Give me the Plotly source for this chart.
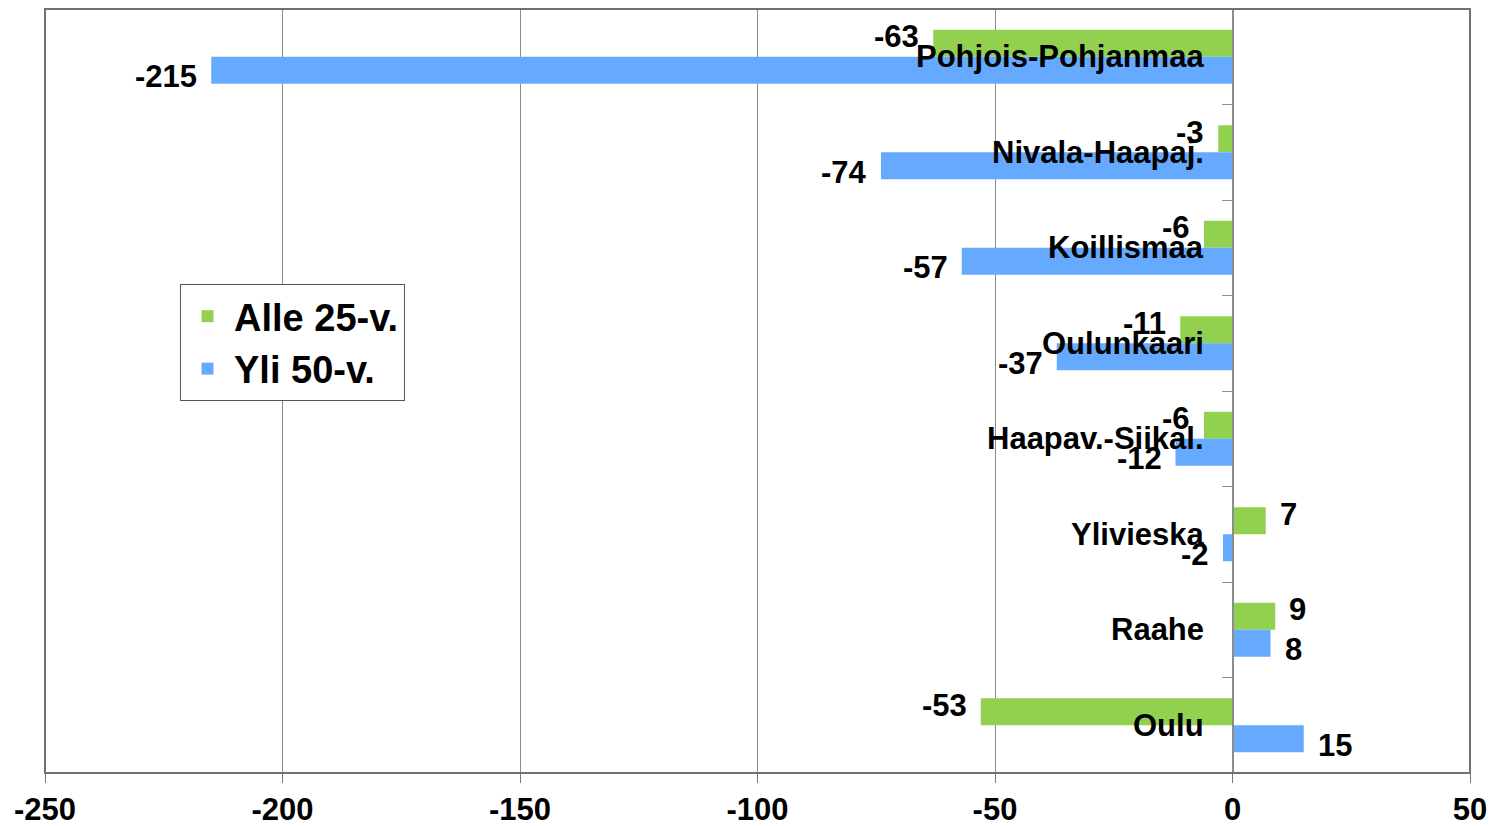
import plotly.graph_objects as go

categories = ["Pohjois-Pohjanmaa", "Nivala-Haapaj.", "Koillismaa", "Oulunkaari",
              "Haapav.-Siikal.", "Ylivieska", "Raahe", "Oulu"]
alle25 = [-63, -3, -6, -11, -6, 7, 9, -53]
yli50 = [-215, -74, -57, -37, -12, -2, 8, 15]
series_names = ["Alle 25-v.", "Yli 50-v."]
x_ticks = [-250, -200, -150, -100, -50, 0, 50]
x_tick_labels = [str(v) for v in x_ticks]

GREEN = "#92D050"
BLUE = "#66AAFF"
FONT = "Liberation Sans, Arial, sans-serif"

fig = go.Figure()
fig.add_trace(go.Bar(y=categories, x=alle25, orientation="h", name=series_names[0],
                     marker=dict(color=GREEN, line=dict(width=0))))
fig.add_trace(go.Bar(y=categories, x=yli50, orientation="h", name=series_names[1],
                     marker=dict(color=BLUE, line=dict(width=0))))

annotations = []
for cat in categories:
    annotations.append(dict(x=0, y=cat, xref="x", yref="y", text=cat, showarrow=False,
                            xanchor="right", yanchor="middle", xshift=-27,
                            font=dict(family=FONT, size=31, color="black", weight="bold")))
for vals, ysh in ((alle25, 20), (yli50, -20)):
    for cat, v in zip(categories, vals):
        annotations.append(dict(x=v, y=cat, xref="x", yref="y", text=str(v), showarrow=False,
                                xanchor="right" if v < 0 else "left",
                                xshift=-12 if v < 0 else 12, yshift=ysh, yanchor="middle",
                                font=dict(family=FONT, size=31, color="black", weight="bold")))

fig.update_layout(
    width=1489, height=818,
    margin=dict(l=37, r=27, t=1, b=53, autoexpand=False),
    paper_bgcolor="white", plot_bgcolor="white",
    barmode="group", bargap=0.435, bargroupgap=0,
    font=dict(family=FONT, size=31, color="black", weight="bold"),
    xaxis=dict(range=[-250, 50], tickvals=x_ticks, ticktext=x_tick_labels, showgrid=True,
               gridcolor="#8c8c8c", automargin=False,
               gridwidth=1, zeroline=False, showline=False, ticks="outside", ticklen=9,
               tickcolor="#777777", tickfont=dict(family=FONT, size=31, color="black", weight="bold")),
    yaxis=dict(type="category", autorange="reversed", showticklabels=False, automargin=False,
               anchor="free", position=250 / 300, showline=True, linecolor="#8c8c8c",
               linewidth=2, ticks="outside", tickson="boundaries", ticklen=10,
               tickcolor="#8c8c8c", showgrid=False, zeroline=False),
    showlegend=True,
    legend=dict(x=(180 - 45) / 1425, y=(772 - 283) / 764, xanchor="left", yanchor="top",
                bordercolor="#555555", borderwidth=1, bgcolor="white", traceorder="normal",
                itemwidth=43,
                font=dict(family=FONT, size=38, color="black", weight="bold")),
    annotations=annotations,
    shapes=[dict(type="rect", xref="paper", yref="paper", x0=0, y0=0, x1=1, y1=1,
                 line=dict(color="#707070", width=2), layer="above")],
)

fig.write_html("out.html")
